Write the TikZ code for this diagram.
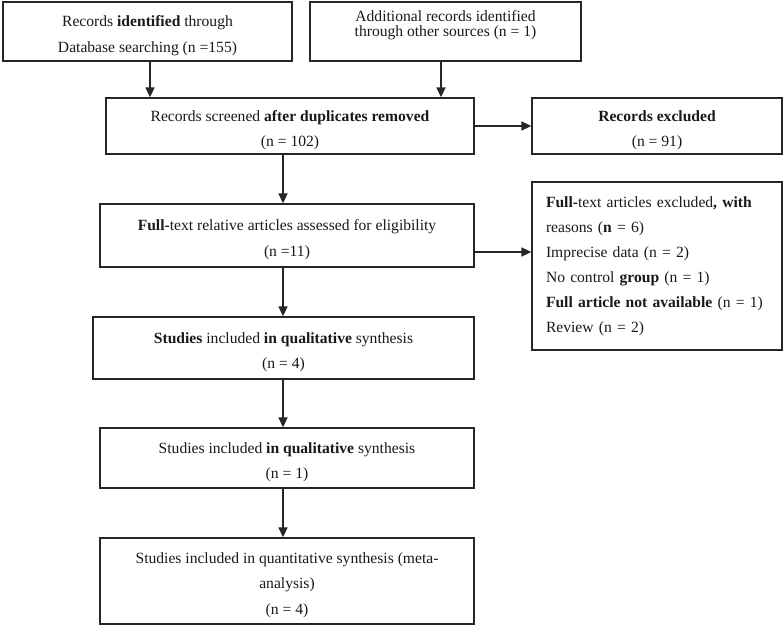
\documentclass[tikz,border=0pt]{standalone}
\usepackage{fontspec}
\setmainfont{Liberation Serif}
\usetikzlibrary{calc,arrows.meta}
\newcommand{\topstrut}{\rule{0pt}{19pt}}
\newcommand{\botstrut}{\rule[-16pt]{0pt}{16pt}}

\begin{document}
\begin{tikzpicture}[x=1pt,y=-1pt,
	box/.style={draw=black!85,line width=1.3pt,align=center,inner sep=0pt,text=black!90,
		font=\fontsize{15.6}{25.5}\selectfont},
	arr/.style={draw=black!85,line width=1.6pt,-{Triangle[length=10pt,width=9pt]}}]
	\useasboundingbox (0,0) rectangle (784,626);
	% identification
	\node[box,minimum width=289pt,minimum height=59pt] (idb) at (147.5,31.5)
		{\topstrut Records \textbf{identified} through\\Database searching (n =155)};
	\node[box,minimum width=271pt,minimum height=59pt,font=\fontsize{15.6}{14.5}\selectfont] (oth) at (445.5,31.5)
		{Additional records identified\\through other sources (n = 1)\botstrut};
	% screening
	\node[box,minimum width=368pt,minimum height=56pt] (scr) at (290,126)
		{\topstrut Records screened \textbf{after duplicates removed}\\(n = 102)};
	\node[box,minimum width=250pt,minimum height=56pt] (exc) at (657,126)
		{\topstrut\textbf{Records excluded}\\(n = 91)};
	% eligibility
	\node[box,minimum width=374pt,minimum height=63pt] (elg) at (287,235.5)
		{\topstrut\textbf{Full-}text relative articles assessed for eligibility\\(n =11)};
	\node[box,align=left,text width=222pt,inner xsep=14pt,minimum height=168pt,
		font=\fontsize{15.6}{25}\selectfont] (rsn) at (657,266)
		{\textbf{Full-}text articles excluded\textbf{, with}\\reasons (\textbf{n} = 6)\\Imprecise data (n = 2)\\
		No control \textbf{group} (n = 1)\\\textbf{Full article not available} (n = 1)\\Review (n = 2)};
	% included
	\node[box,minimum width=381pt,minimum height=62pt] (ql1) at (283.5,348)
		{\topstrut\textbf{Studies} included \textbf{in qualitative} synthesis\\(n = 4)};
	\node[box,minimum width=374pt,minimum height=60pt] (ql2) at (287,458)
		{\topstrut Studies included \textbf{in qualitative} synthesis\\(n = 1)};
	\node[box,minimum width=374pt,minimum height=86pt] (qnt) at (287,581)
		{\topstrut Studies included in quantitative synthesis (meta-\\analysis)\\(n = 4)};

	\coordinate (sp) at (283,0);
	\coordinate (er) at ($(elg.east)+(0,16.5)$);
	\draw[arr] ([xshift=2.5pt]idb.south) -- ([xshift=2.5pt]idb.south |- scr.north);
	\draw[arr] ([xshift=-4.5pt]oth.south) -- ([xshift=-4.5pt]oth.south |- scr.north);
	\draw[arr] (scr.east) -- (exc.west);
	\draw[arr] (scr.south -| sp) -- (elg.north -| sp);
	\draw[arr] (er) -- (er -| rsn.west);
	\draw[arr] (elg.south -| sp) -- (ql1.north -| sp);
	\draw[arr] (ql1.south -| sp) -- (ql2.north -| sp);
	\draw[arr] (ql2.south -| sp) -- (qnt.north -| sp);
\end{tikzpicture}
\end{document}
